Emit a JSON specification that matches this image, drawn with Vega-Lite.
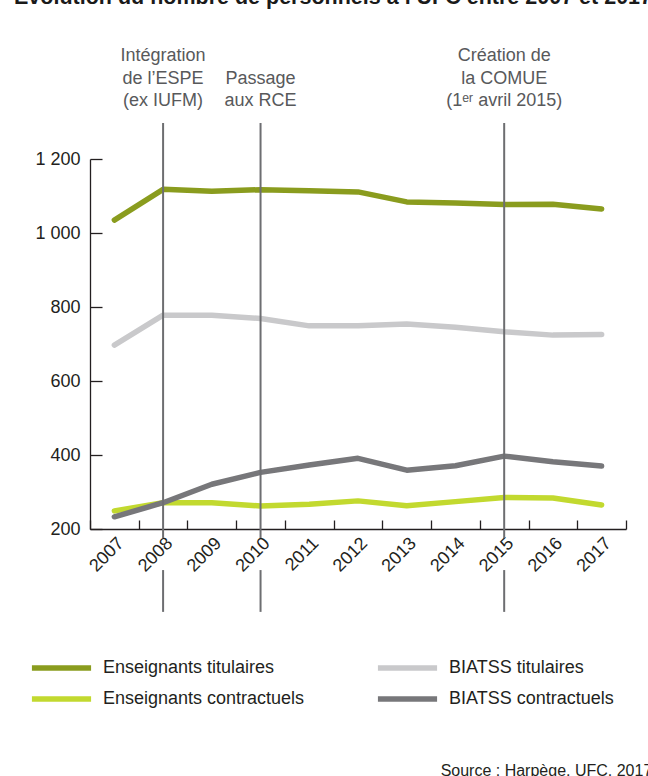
{
  "$schema": "https://vega.github.io/schema/vega-lite/v6.json",
  "width": 536,
  "height": 370,
  "autosize": {"type": "none"},
  "padding": {"left": 90, "top": 159, "right": 22, "bottom": 247},
  "background": "white",
  "config": {
    "font": "Liberation Sans",
    "view": {"stroke": null},
    "axis": {"labelFont": "Liberation Sans", "grid": false}
  },
  "datasets": {
    "series": [
      {"annee": 2007, "categorie": "Enseignants titulaires", "effectif": 1035},
      {"annee": 2008, "categorie": "Enseignants titulaires", "effectif": 1118},
      {"annee": 2009, "categorie": "Enseignants titulaires", "effectif": 1113},
      {"annee": 2010, "categorie": "Enseignants titulaires", "effectif": 1117},
      {"annee": 2011, "categorie": "Enseignants titulaires", "effectif": 1114},
      {"annee": 2012, "categorie": "Enseignants titulaires", "effectif": 1111},
      {"annee": 2013, "categorie": "Enseignants titulaires", "effectif": 1084},
      {"annee": 2014, "categorie": "Enseignants titulaires", "effectif": 1081},
      {"annee": 2015, "categorie": "Enseignants titulaires", "effectif": 1077},
      {"annee": 2016, "categorie": "Enseignants titulaires", "effectif": 1078},
      {"annee": 2017, "categorie": "Enseignants titulaires", "effectif": 1065},
      {"annee": 2007, "categorie": "BIATSS titulaires", "effectif": 697},
      {"annee": 2008, "categorie": "BIATSS titulaires", "effectif": 778},
      {"annee": 2009, "categorie": "BIATSS titulaires", "effectif": 778},
      {"annee": 2010, "categorie": "BIATSS titulaires", "effectif": 769},
      {"annee": 2011, "categorie": "BIATSS titulaires", "effectif": 749},
      {"annee": 2012, "categorie": "BIATSS titulaires", "effectif": 749},
      {"annee": 2013, "categorie": "BIATSS titulaires", "effectif": 754},
      {"annee": 2014, "categorie": "BIATSS titulaires", "effectif": 745},
      {"annee": 2015, "categorie": "BIATSS titulaires", "effectif": 733},
      {"annee": 2016, "categorie": "BIATSS titulaires", "effectif": 724},
      {"annee": 2017, "categorie": "BIATSS titulaires", "effectif": 726},
      {"annee": 2007, "categorie": "Enseignants contractuels", "effectif": 249},
      {"annee": 2008, "categorie": "Enseignants contractuels", "effectif": 271},
      {"annee": 2009, "categorie": "Enseignants contractuels", "effectif": 271},
      {"annee": 2010, "categorie": "Enseignants contractuels", "effectif": 262},
      {"annee": 2011, "categorie": "Enseignants contractuels", "effectif": 267},
      {"annee": 2012, "categorie": "Enseignants contractuels", "effectif": 276},
      {"annee": 2013, "categorie": "Enseignants contractuels", "effectif": 263},
      {"annee": 2014, "categorie": "Enseignants contractuels", "effectif": 274},
      {"annee": 2015, "categorie": "Enseignants contractuels", "effectif": 285},
      {"annee": 2016, "categorie": "Enseignants contractuels", "effectif": 284},
      {"annee": 2017, "categorie": "Enseignants contractuels", "effectif": 265},
      {"annee": 2007, "categorie": "BIATSS contractuels", "effectif": 233},
      {"annee": 2008, "categorie": "BIATSS contractuels", "effectif": 271},
      {"annee": 2009, "categorie": "BIATSS contractuels", "effectif": 321},
      {"annee": 2010, "categorie": "BIATSS contractuels", "effectif": 353},
      {"annee": 2011, "categorie": "BIATSS contractuels", "effectif": 373},
      {"annee": 2012, "categorie": "BIATSS contractuels", "effectif": 391},
      {"annee": 2013, "categorie": "BIATSS contractuels", "effectif": 359},
      {"annee": 2014, "categorie": "BIATSS contractuels", "effectif": 371},
      {"annee": 2015, "categorie": "BIATSS contractuels", "effectif": 397},
      {"annee": 2016, "categorie": "BIATSS contractuels", "effectif": 382},
      {"annee": 2017, "categorie": "BIATSS contractuels", "effectif": 370}
    ],
    "events": [
      {"annee": 2008, "label": ["Intégration", "de l’ESPE", "(ex IUFM)"]},
      {"annee": 2010, "label": ["", "Passage", "aux RCE"]},
      {"annee": 2015, "label": ["Création de", "la COMUE", "(1ᵉʳ avril 2015)"]}
    ],
    "source": [
      {"texte": "Source : Harpège, UFC, 2017"}
    ],
    "titre": [
      {"texte": "Évolution du nombre de personnels à l’UFC entre 2007 et 2017"}
    ]
  },
  "layer": [
    {
      "data": {"name": "series"},
      "mark": {"type": "line", "strokeWidth": 5.5, "strokeCap": "round", "strokeJoin": "round"},
      "encoding": {
        "x": {
          "field": "annee",
          "type": "ordinal",
          "bandPosition": 0.5,
          "scale": {"type": "band", "paddingInner": 0, "paddingOuter": 0},
          "axis": {
            "title": null,
            "labelAngle": -45,
            "tickBand": "extent",
            "tickSize": -9,
            "tickWidth": 1.3,
            "tickColor": "#231f20",
            "domainColor": "#231f20",
            "domainWidth": 1.3,
            "labelFontSize": 18,
            "labelColor": "#231f20",
            "labelPadding": 14
          }
        },
        "y": {
          "field": "effectif",
          "type": "quantitative",
          "scale": {"domain": [200, 1200], "nice": false, "zero": false},
          "axis": {
            "title": null,
            "values": [200, 400, 600, 800, 1000, 1200],
            "format": ",d",
            "labelExpr": "replace(datum.label, ',', ' ')",
            "tickSize": -12,
            "tickWidth": 1.3,
            "tickColor": "#231f20",
            "domainColor": "#231f20",
            "domainWidth": 1.3,
            "labelFontSize": 18,
            "labelColor": "#231f20",
            "labelPadding": 22
          }
        },
        "color": {
          "field": "categorie",
          "type": "nominal",
          "scale": {
            "domain": ["Enseignants titulaires", "Enseignants contractuels", "BIATSS titulaires", "BIATSS contractuels"],
            "range": ["#8a9c1e", "#c2d92f", "#c9c9cb", "#77777a"]
          },
          "legend": {
            "title": null,
            "orient": "none",
            "legendX": -61,
            "legendY": 499,
            "columns": 2,
            "symbolType": "stroke",
            "symbolSize": 3500,
            "symbolStrokeWidth": 5.5,
            "clipHeight": 20,
            "labelFontSize": 18,
            "labelColor": "#231f20",
            "labelLimit": 400,
            "labelOffset": 9,
            "columnPadding": 70,
            "rowPadding": 11
          }
        }
      }
    },
    {
      "data": {"name": "events"},
      "mark": {"type": "rule", "color": "#6d6e71", "strokeWidth": 2},
      "encoding": {
        "x": {"field": "annee", "type": "ordinal", "bandPosition": 0.5},
        "y": {"datum": 1297, "type": "quantitative", "scale": {"domain": [200, 1200]}},
        "y2": {"datum": 176}
      }
    },
    {
      "data": {"name": "events"},
      "mark": {"type": "rule", "color": "#6d6e71", "strokeWidth": 2},
      "encoding": {
        "x": {"field": "annee", "type": "ordinal", "bandPosition": 0.5},
        "y": {"datum": 89, "type": "quantitative", "scale": {"domain": [200, 1200]}},
        "y2": {"datum": -24}
      }
    },
    {
      "data": {"name": "events"},
      "mark": {"type": "text", "align": "center", "baseline": "bottom", "fontSize": 18, "lineHeight": 22.5, "color": "#58595b"},
      "encoding": {
        "x": {"field": "annee", "type": "ordinal", "bandPosition": 0.5},
        "y": {"datum": 1454, "type": "quantitative", "scale": {"domain": [200, 1200]}},
        "text": {"field": "label"}
      }
    },
    {
      "data": {"name": "source"},
      "mark": {"type": "text", "align": "left", "baseline": "alphabetic", "fontSize": 16, "color": "#231f20", "dx": -161},
      "encoding": {
        "x": {"datum": 2017, "type": "ordinal", "bandPosition": 0.5},
        "y": {"datum": -468, "type": "quantitative", "scale": {"domain": [200, 1200]}},
        "text": {"field": "texte"}
      }
    },
    {
      "data": {"name": "titre"},
      "mark": {"type": "text", "align": "left", "baseline": "alphabetic", "fontSize": 21.5, "fontWeight": "bold", "color": "#1a1a1a", "dx": -76},
      "encoding": {
        "x": {"datum": 2007, "type": "ordinal", "bandPosition": 0},
        "y": {"datum": 1619, "type": "quantitative", "scale": {"domain": [200, 1200]}},
        "text": {"field": "texte"}
      }
    }
  ]
}
